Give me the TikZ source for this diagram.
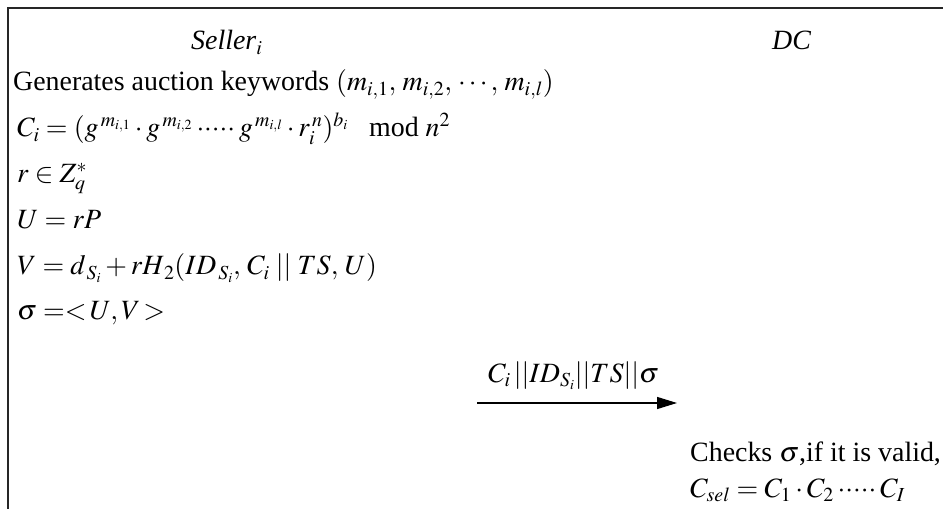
\documentclass[tikz,border=0pt]{standalone}
\usepackage{mathptmx}
\usepackage{fontspec}
\setmainfont{Liberation Serif}
\usetikzlibrary{arrows.meta}
\DeclareMathSizes{28}{28}{20}{14}
\newcommand{\fdots}{\mathbin{\mathord{\cdot}\mathord{\cdot}\mathord{\cdot}\mathord{\cdot}\mathord{\cdot}}}
\begin{document}
\begin{tikzpicture}[x=1bp,y=-1bp,
  txt/.style={anchor=base west,inner sep=0pt,font=\fontsize{28}{32}\selectfont},
  frame/.style={line width=1.6bp,draw=black!85},
  msg/.style={line width=1.3bp,-{Triangle[length=20bp,width=12bp]}}]
\useasboundingbox (0,0) rectangle (943,509);
\draw[frame] (943,8) -- (8,8) -- (8,509);
\node[txt] (seller) at (191,50) {\textit{Seller}$_i$};
\node[txt] (dc) at (772,50) {\textit{DC}};
\node[txt] (l1) at (13,91) {Generates auction keywords $(m_{i,1},\,m_{i,2},\,\cdots,\,m_{i,l})$};
\node[txt] (l2) at (17,137) {$C_i=(g^{\,m_{i,1}}\cdot g^{\,m_{i,2}}\fdots g^{\,m_{i,l}}\cdot r_i^{\,n})^{b_i}$\ \ \ mod $n^2$};
\node[txt] (l3) at (17,183) {$r\in Z_q^*$};
\node[txt] (l4) at (17,229) {$U=rP$};
\node[txt] (l5) at (17,275) {$V=d_{\,S_i}+rH_{\,2}(ID_{\,S_i},\,C_i\;||\;TS,\,U)$};
\node[txt] (l6) at (17,320) {$\sigma=<\!U,V\!>$};
\coordinate (a1) at (477,403);
\coordinate (a2) at (677,403);
\draw[msg] (a1) -- (a2);
\node[txt] (lab) at (488,382) {$C_i\,||ID_{S_i}||TS||\sigma$};
\node[txt] (c1) at (690,461) {Checks $\sigma$,if it is valid,};
\node[txt] (c2) at (690,497) {$C_{sel}=C_1\cdot C_2\fdots C_I$};
\end{tikzpicture}
\end{document}
